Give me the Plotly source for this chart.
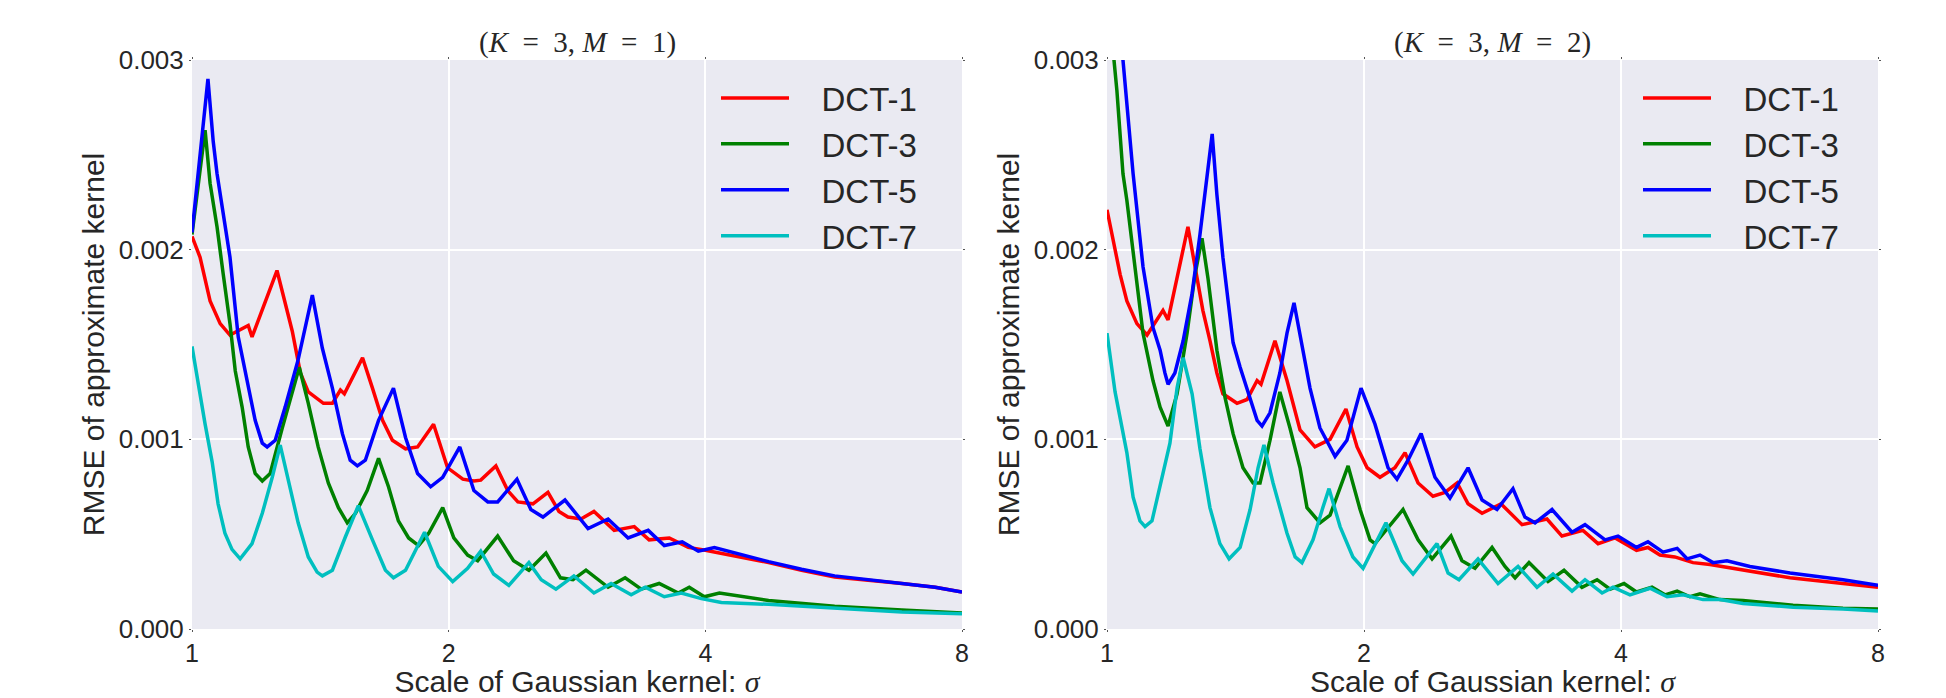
import numpy as np
import plotly.graph_objects as go

# ---------------- data (RMSE values in units of 1e-3) ----------------
# Left panel: K=3, M=1
L_red_s = [1.000,1.022,1.050,1.079,1.108,1.164,1.176,1.258,1.311,1.340,1.369,1.406,1.426,1.461,1.493,1.509,1.585,1.628,1.673,1.718,1.780,1.839,1.920,1.994,2.078,2.141,2.181,2.272,2.346,2.411,2.511,2.615,2.694,2.760,2.859,2.961,3.127,3.301,3.437,3.629,3.820,4.0,4.745,5.187,5.672,6.801,7.44,8.0]
L_red_v = [2.07,1.96,1.73,1.61,1.55,1.60,1.54,1.89,1.57,1.35,1.25,1.21,1.19,1.19,1.26,1.24,1.43,1.27,1.10,0.995,0.95,0.96,1.08,0.85,0.79,0.78,0.785,0.86,0.73,0.67,0.66,0.72,0.62,0.59,0.58,0.62,0.52,0.54,0.47,0.48,0.43,0.415,0.35,0.31,0.274,0.24,0.22,0.195]

L_green_s = [1.000,1.036,1.050,1.070,1.088,1.108,1.124,1.145,1.164,1.186,1.209,1.235,1.276,1.336,1.369,1.406,1.445,1.485,1.521,1.555,1.605,1.655,1.700,1.746,1.795,1.844,1.895,1.968,2.028,2.105,2.163,2.283,2.383,2.484,2.601,2.705,2.798,2.898,3.076,3.221,3.364,3.531,3.718,3.830,3.989,4.155,4.745,5.672,6.801,8.0]
L_green_v = [2.08,2.63,2.35,2.12,1.87,1.61,1.36,1.17,0.96,0.82,0.78,0.82,1.06,1.38,1.19,0.96,0.77,0.64,0.56,0.61,0.73,0.90,0.75,0.57,0.48,0.44,0.505,0.64,0.48,0.39,0.36,0.49,0.36,0.31,0.40,0.27,0.26,0.31,0.22,0.27,0.21,0.24,0.19,0.22,0.17,0.19,0.15,0.12,0.10,0.085]

L_blue_s = [1.000,1.044,1.059,1.070,1.088,1.108,1.133,1.160,1.186,1.209,1.225,1.252,1.286,1.332,1.384,1.422,1.461,1.501,1.533,1.563,1.597,1.655,1.723,1.780,1.839,1.905,1.968,2.061,2.141,2.223,2.283,2.405,2.497,2.580,2.738,2.914,3.076,3.247,3.428,3.580,3.758,3.925,4.099,4.745,5.187,5.672,6.801,7.44,8.0]
L_blue_v = [2.09,2.90,2.57,2.40,2.19,1.96,1.54,1.31,1.10,0.98,0.96,0.995,1.17,1.42,1.76,1.48,1.27,1.03,0.89,0.86,0.89,1.10,1.27,1.01,0.82,0.75,0.80,0.96,0.73,0.67,0.67,0.79,0.63,0.59,0.68,0.53,0.58,0.48,0.52,0.44,0.46,0.41,0.43,0.355,0.315,0.28,0.24,0.22,0.195]

L_cyan_s = [1.000,1.016,1.036,1.056,1.073,1.093,1.114,1.139,1.176,1.209,1.242,1.269,1.297,1.332,1.369,1.402,1.422,1.461,1.513,1.567,1.628,1.686,1.723,1.780,1.829,1.874,1.945,2.022,2.105,2.181,2.258,2.353,2.484,2.568,2.672,2.805,2.961,3.101,3.274,3.401,3.580,3.749,3.957,4.177,4.745,5.672,6.801,8.0]
L_cyan_v = [1.49,1.30,1.08,0.88,0.66,0.505,0.42,0.37,0.45,0.61,0.80,0.97,0.78,0.56,0.38,0.30,0.28,0.31,0.485,0.65,0.47,0.31,0.27,0.31,0.415,0.51,0.33,0.25,0.32,0.41,0.29,0.23,0.35,0.26,0.21,0.28,0.19,0.24,0.18,0.22,0.17,0.19,0.16,0.14,0.13,0.11,0.09,0.08]

# Right panel: K=3, M=2
R_red_s = [1.000,1.016,1.036,1.055,1.084,1.114,1.163,1.179,1.244,1.275,1.295,1.320,1.345,1.367,1.420,1.459,1.499,1.515,1.573,1.625,1.683,1.752,1.825,1.905,1.963,2.017,2.088,2.174,2.234,2.314,2.409,2.488,2.571,2.648,2.750,2.894,3.063,3.276,3.411,3.610,3.760,3.937,4.171,4.302,4.443,4.624,4.857,5.085,5.558,6.310,7.279,8.0]
R_red_v = [2.21,2.05,1.87,1.73,1.61,1.55,1.68,1.63,2.12,1.85,1.68,1.52,1.35,1.24,1.19,1.21,1.31,1.29,1.52,1.31,1.05,0.96,1.00,1.16,0.96,0.85,0.80,0.85,0.93,0.77,0.70,0.72,0.77,0.66,0.61,0.66,0.55,0.58,0.49,0.52,0.45,0.48,0.415,0.43,0.39,0.38,0.35,0.34,0.31,0.27,0.24,0.22]

R_green_s = [1.000,1.019,1.027,1.044,1.055,1.073,1.102,1.132,1.154,1.179,1.208,1.241,1.268,1.292,1.313,1.345,1.375,1.405,1.443,1.483,1.511,1.552,1.594,1.638,1.683,1.715,1.776,1.825,1.875,1.916,1.979,2.033,2.060,2.222,2.314,2.403,2.529,2.605,2.698,2.825,2.925,3.006,3.121,3.285,3.430,3.600,3.750,3.884,4.033,4.171,4.349,4.504,4.654,4.818,4.950,5.224,5.558,6.362,7.279,8.0]
R_green_v = [3.20,3.00,2.84,2.40,2.26,1.98,1.56,1.31,1.17,1.07,1.24,1.56,1.87,2.06,1.85,1.47,1.22,1.03,0.85,0.77,0.77,0.995,1.25,1.06,0.85,0.64,0.56,0.60,0.75,0.86,0.63,0.47,0.45,0.63,0.47,0.37,0.49,0.36,0.32,0.43,0.33,0.27,0.35,0.25,0.31,0.22,0.26,0.21,0.24,0.195,0.22,0.18,0.20,0.17,0.185,0.155,0.15,0.125,0.11,0.105]

R_blue_s = [1.000,1.044,1.073,1.102,1.132,1.154,1.169,1.179,1.201,1.228,1.258,1.285,1.328,1.345,1.367,1.405,1.432,1.471,1.499,1.519,1.552,1.594,1.625,1.656,1.683,1.729,1.776,1.850,1.910,1.984,2.060,2.134,2.186,2.252,2.333,2.422,2.522,2.648,2.750,2.863,2.989,3.087,3.172,3.321,3.505,3.630,3.832,3.968,4.171,4.302,4.480,4.654,4.780,4.950,5.127,5.323,5.664,6.310,7.279,8.0]
R_blue_v = [3.60,3.00,2.40,1.91,1.59,1.47,1.35,1.29,1.35,1.52,1.77,2.08,2.61,2.29,1.96,1.51,1.38,1.21,1.10,1.07,1.14,1.35,1.56,1.72,1.56,1.27,1.06,0.91,0.995,1.27,1.08,0.85,0.79,0.89,1.03,0.80,0.69,0.85,0.68,0.63,0.74,0.59,0.56,0.63,0.51,0.55,0.47,0.49,0.43,0.46,0.405,0.425,0.37,0.39,0.35,0.36,0.33,0.295,0.26,0.23]

R_cyan_s = [1.000,1.022,1.055,1.073,1.093,1.108,1.129,1.154,1.185,1.208,1.228,1.258,1.285,1.320,1.356,1.390,1.432,1.471,1.503,1.527,1.565,1.625,1.661,1.692,1.743,1.790,1.820,1.875,1.941,1.995,2.122,2.216,2.283,2.435,2.509,2.584,2.720,2.871,3.030,3.189,3.330,3.505,3.630,3.801,3.915,4.098,4.326,4.529,4.728,4.990,5.224,5.558,6.362,7.279,8.0]
R_cyan_v = [1.56,1.25,0.93,0.695,0.57,0.54,0.57,0.75,0.98,1.27,1.43,1.24,0.95,0.64,0.45,0.37,0.43,0.63,0.85,0.97,0.77,0.505,0.38,0.35,0.47,0.64,0.74,0.54,0.38,0.32,0.56,0.36,0.29,0.45,0.295,0.26,0.37,0.24,0.33,0.22,0.29,0.20,0.26,0.19,0.22,0.18,0.215,0.17,0.18,0.155,0.155,0.135,0.115,0.105,0.095]

series_names = ["DCT-1", "DCT-3", "DCT-5", "DCT-7"]
series_colors = ["#FF0000", "#008000", "#0000FF", "#00BFBF"]
x_tickvals = [1, 2, 4, 8]
x_ticktext = ["1", "2", "4", "8"]
y_tickvals = [0.0, 0.001, 0.002, 0.003]
y_ticktext = ["0.000", "0.001", "0.002", "0.003"]
titles = ["(<i>K</i>\u2002=\u20023, <i>M</i>\u2002=\u20021)", "(<i>K</i>\u2002=\u20023, <i>M</i>\u2002=\u20022)"]

panels = [
    [(L_red_s, L_red_v), (L_green_s, L_green_v), (L_blue_s, L_blue_v), (L_cyan_s, L_cyan_v)],
    [(R_red_s, R_red_v), (R_green_s, R_green_v), (R_blue_s, R_blue_v), (R_cyan_s, R_cyan_v)],
]

W, H = 1946, 698
boxes = [(192, 962), (1107, 1878)]   # plot-area pixel boxes (x)
top_px, bot_px = 60, 629

fig = go.Figure()
for p, panel in enumerate(panels):
    xa = "x" if p == 0 else "x2"
    ya = "y" if p == 0 else "y2"
    lg = "legend" if p == 0 else "legend2"
    for (s, v), name, col in zip(panel, series_names, series_colors):
        fig.add_trace(go.Scatter(
            x=s, y=np.array(v) * 1e-3, mode="lines", name="\u00a0\u00a0\u00a0" + name,
            line=dict(color=col, width=3.5), xaxis=xa, yaxis=ya, legend=lg,
        ))

font_sans = "Liberation Sans, Arial, sans-serif"
txt_col = "#262626"
ydom = [1 - bot_px / H, 1 - top_px / H]

common_x = dict(type="log", range=[0, np.log10(8)], tickvals=x_tickvals, ticktext=x_ticktext,
                showgrid=True, gridcolor="white", gridwidth=2, zeroline=False, showline=False,
                ticks="outside", ticklen=2, tickcolor="#555555", mirror="ticks", automargin=False,
                tickfont=dict(family=font_sans, size=25, color=txt_col),
                title=dict(text="Scale of Gaussian kernel: <span style=\"font-family:Liberation Serif\"><i>σ</i></span>",
                           font=dict(family=font_sans, size=30, color=txt_col), standoff=10))
common_y = dict(range=[0, 0.003], tickvals=y_tickvals, ticktext=y_ticktext,
                showgrid=True, gridcolor="white", gridwidth=2, zeroline=False, showline=False,
                ticks="outside", ticklen=2, tickcolor="#555555", mirror="ticks", automargin=False,
                tickfont=dict(family=font_sans, size=26, color=txt_col),
                title=dict(text="RMSE of approximate kernel",
                           font=dict(family=font_sans, size=30, color=txt_col), standoff=5))

layout = dict(
    width=W, height=H, autosize=False,
    margin=dict(l=0, r=0, t=0, b=0, pad=0),
    paper_bgcolor="white", plot_bgcolor="#EAEAF2",
    font=dict(family=font_sans, color=txt_col),
    showlegend=True,
)
for p, (x0, x1) in enumerate(boxes):
    sfx = "" if p == 0 else "2"
    xd = dict(common_x); xd["domain"] = [x0 / W, x1 / W]; xd["anchor"] = "y" + sfx
    yd = dict(common_y); yd["domain"] = ydom; yd["anchor"] = "x" + sfx
    layout["xaxis" + sfx] = xd
    layout["yaxis" + sfx] = yd

leg_common = dict(font=dict(family=font_sans, size=33, color=txt_col), bgcolor="rgba(0,0,0,0)",
                  itemwidth=68, xanchor="left", yanchor="top", y=1 - 70 / H)
layout["legend"] = dict(leg_common, x=716 / W)
layout["legend2"] = dict(leg_common, x=1638 / W)

annotations = []
for p, (x0, x1) in enumerate(boxes):
    annotations.append(dict(text=titles[p], x=(x0 + x1) / 2 / W, y=1 - 43 / H, xref="paper", yref="paper",
                            xanchor="center", yanchor="middle", showarrow=False,
                            font=dict(family="Liberation Serif, serif", size=29, color=txt_col)))
layout["annotations"] = annotations
fig.update_layout(**layout)
fig.write_html("out.html", config={"displayModeBar": False},
               post_script="document.body.style.margin='0px';")
